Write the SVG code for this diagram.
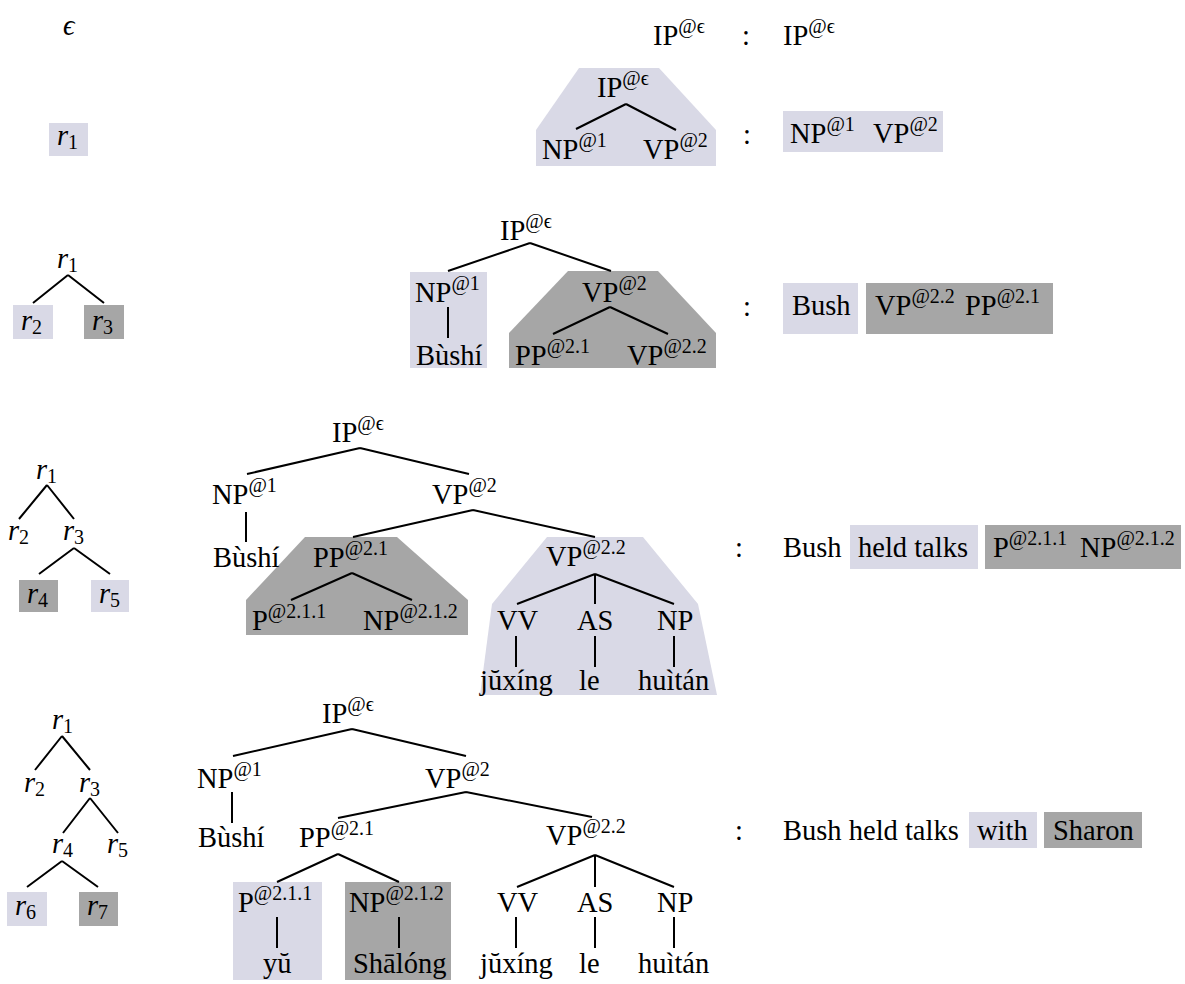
<svg xmlns="http://www.w3.org/2000/svg" width="1185" height="984" viewBox="0 0 1185 984">
<style>
text{font-family:"Liberation Serif","Times New Roman","DejaVu Serif",serif;font-size:28.5px;fill:#000}
.it{font-style:italic}
.s{font-size:20px;font-style:normal}
.ln{stroke:#000;stroke-width:2;fill:none;stroke-linecap:butt}
.lav{fill:#d9d9e6}
.gry{fill:#a6a6a6}
</style>
<rect width="1185" height="984" fill="#fff"/>
<g id="highlights">
<rect class="lav" x="49" y="123" width="39" height="33"/>
<polygon class="lav" points="579,68 659,68 716,130 716,166 536,166 536,130"/>
<rect class="lav" x="783" y="111" width="160" height="41"/>
<rect class="lav" x="13" y="305" width="40" height="34"/>
<rect class="gry" x="84" y="305" width="40" height="34"/>
<rect class="lav" x="410" y="272" width="77" height="96"/>
<polygon class="gry" points="568,271 658,271 716,333 716,368 509,368 509,333"/>
<rect class="lav" x="783" y="283" width="75" height="51"/>
<rect class="gry" x="866" y="283" width="187" height="51"/>
<rect class="gry" x="19" y="580" width="39" height="32"/>
<rect class="lav" x="91" y="580" width="38" height="32"/>
<polygon class="gry" points="305,537 397,537 468,600 468,635 246,635 246,600"/>
<polygon class="lav" points="547,537 643,537 698,604 717,695 480,695 492,604"/>
<rect class="lav" x="850" y="525" width="128" height="44"/>
<rect class="gry" x="985" y="525" width="196" height="44"/>
<rect class="lav" x="7" y="892" width="40" height="34"/>
<rect class="gry" x="79" y="892" width="39" height="34"/>
<rect class="lav" x="233" y="882" width="89" height="98"/>
<rect class="gry" x="345" y="882" width="106" height="98"/>
<rect class="lav" x="969" y="812" width="68" height="36"/>
<rect class="gry" x="1044" y="812" width="98" height="36"/>
</g>
<g id="connectors">
<path class="ln" d="M626,104L576,129M626,104L676,130"/>
<path class="ln" d="M68,275L33,303M68,275L104,303"/>
<path class="ln" d="M530,243L448,271M530,243L611,271M448,307L448,338M610,307L553,334M610,307L668,334"/>
<path class="ln" d="M47,485L19,519M47,485L74,519M74,548L39,574M74,548L110,574"/>
<path class="ln" d="M360,448L247,474M360,448L469,474M246,512L246,542M473,510L353,537M473,510L595,537M352,573L291,600M352,573L412,600"/>
<path class="ln" d="M595,574L517,604M595,574L595,604M595,574L674,604M516,636L516,667M595,636L595,667M674,636L674,667"/>
<path class="ln" d="M62,736L35,770M62,736L90,770M90,798L63,833M90,798L118,833M62,861L27,887M62,861L98,887"/>
<path class="ln" d="M352,729L233,756M352,729L466,756M232,792L232,823M466,792L338,818M466,792L592,817M338,854L277,882M338,854L399,882M277,917L277,948M399,917L399,948"/>
<path class="ln" d="M595,855L517,887M595,855L595,887M595,855L674,887M516,917L516,948M595,917L595,948M674,917L674,948"/>
</g>
<g id="row1">
<g id="n-eps"><text class="it" x="63" y="35">ϵ</text></g>
<g id="n1-ip"><text x="653" y="45">IP<tspan class="s" dy="-12">@ϵ</tspan></text></g>
<g id="n1-colon"><text x="742" y="45">:</text></g>
<g id="n1-out"><text x="783" y="45">IP<tspan class="s" dy="-12">@ϵ</tspan></text></g>
</g>
<g id="row2">
<g id="n2-r1"><text class="it" x="57" y="145">r<tspan class="s" dy="4">1</tspan></text></g>
<g id="n2-ip"><text x="597" y="97">IP<tspan class="s" dy="-12">@ϵ</tspan></text></g>
<g id="n2-np"><text x="542" y="159">NP<tspan class="s" dy="-12">@1</tspan></text></g>
<g id="n2-vp"><text x="643" y="159">VP<tspan class="s" dy="-12">@2</tspan></text></g>
<g id="n2-colon"><text x="743" y="144">:</text></g>
<g id="n2-out"><text x="790" y="143">NP<tspan class="s" dy="-12">@1</tspan></text><text x="873" y="143">VP<tspan class="s" dy="-12">@2</tspan></text></g>
</g>
<g id="row3">
<g id="n3-r1"><text class="it" x="57" y="268">r<tspan class="s" dy="4">1</tspan></text></g>
<g id="n3-r2"><text class="it" x="21" y="330">r<tspan class="s" dy="4">2</tspan></text></g>
<g id="n3-r3"><text class="it" x="92" y="330">r<tspan class="s" dy="4">3</tspan></text></g>
<g id="n3-ip"><text x="500" y="240">IP<tspan class="s" dy="-12">@ϵ</tspan></text></g>
<g id="n3-np"><text x="415" y="302">NP<tspan class="s" dy="-12">@1</tspan></text></g>
<g id="n3-bushi"><text x="416" y="365">Bùshí</text></g>
<g id="n3-vp"><text x="582" y="302">VP<tspan class="s" dy="-12">@2</tspan></text></g>
<g id="n3-pp"><text x="515" y="365">PP<tspan class="s" dy="-12">@2.1</tspan></text></g>
<g id="n3-vp22"><text x="627" y="365">VP<tspan class="s" dy="-12">@2.2</tspan></text></g>
<g id="n3-colon"><text x="743" y="316">:</text></g>
<g id="n3-out"><text x="792" y="315">Bush</text><text x="875" y="315">VP<tspan class="s" dy="-12">@2.2</tspan></text><text x="965" y="315">PP<tspan class="s" dy="-12">@2.1</tspan></text></g>
</g>
<g id="row4">
<g id="n4-r1"><text class="it" x="36" y="479">r<tspan class="s" dy="4">1</tspan></text></g>
<g id="n4-r2"><text class="it" x="8" y="540">r<tspan class="s" dy="4">2</tspan></text></g>
<g id="n4-r3"><text class="it" x="63" y="540">r<tspan class="s" dy="4">3</tspan></text></g>
<g id="n4-r4"><text class="it" x="27" y="603">r<tspan class="s" dy="4">4</tspan></text></g>
<g id="n4-r5"><text class="it" x="99" y="603">r<tspan class="s" dy="4">5</tspan></text></g>
<g id="n4-ip"><text x="332" y="442">IP<tspan class="s" dy="-12">@ϵ</tspan></text></g>
<g id="n4-np"><text x="212" y="504">NP<tspan class="s" dy="-12">@1</tspan></text></g>
<g id="n4-bushi"><text x="213" y="567">Bùshí</text></g>
<g id="n4-vp"><text x="432" y="504">VP<tspan class="s" dy="-12">@2</tspan></text></g>
<g id="n4-pp"><text x="313" y="567">PP<tspan class="s" dy="-12">@2.1</tspan></text></g>
<g id="n4-p"><text x="252" y="630">P<tspan class="s" dy="-12">@2.1.1</tspan></text></g>
<g id="n4-np212"><text x="363" y="630">NP<tspan class="s" dy="-12">@2.1.2</tspan></text></g>
<g id="n4-vp22"><text x="546" y="566">VP<tspan class="s" dy="-12">@2.2</tspan></text></g>
<g id="n4-vv"><text x="497" y="630">VV</text></g>
<g id="n4-as"><text x="577" y="630">AS</text></g>
<g id="n4-npl"><text x="657" y="630">NP</text></g>
<g id="n4-juxing"><text x="480" y="690">jŭxíng</text></g>
<g id="n4-le"><text x="579" y="690">le</text></g>
<g id="n4-huitan"><text x="638" y="690">huìtán</text></g>
<g id="n4-colon"><text x="735" y="557">:</text></g>
<g id="n4-out"><text x="783" y="557">Bush</text><text x="858" y="557">held talks</text><text x="993" y="557">P<tspan class="s" dy="-12">@2.1.1</tspan></text><text x="1080" y="557">NP<tspan class="s" dy="-12">@2.1.2</tspan></text></g>
</g>
<g id="row5">
<g id="n5-r1"><text class="it" x="52" y="729">r<tspan class="s" dy="4">1</tspan></text></g>
<g id="n5-r2"><text class="it" x="24" y="792">r<tspan class="s" dy="4">2</tspan></text></g>
<g id="n5-r3"><text class="it" x="79" y="792">r<tspan class="s" dy="4">3</tspan></text></g>
<g id="n5-r4"><text class="it" x="52" y="853">r<tspan class="s" dy="4">4</tspan></text></g>
<g id="n5-r5"><text class="it" x="107" y="853">r<tspan class="s" dy="4">5</tspan></text></g>
<g id="n5-r6"><text class="it" x="15" y="915">r<tspan class="s" dy="4">6</tspan></text></g>
<g id="n5-r7"><text class="it" x="87" y="915">r<tspan class="s" dy="4">7</tspan></text></g>
<g id="n5-ip"><text x="322" y="723">IP<tspan class="s" dy="-12">@ϵ</tspan></text></g>
<g id="n5-np"><text x="197" y="788">NP<tspan class="s" dy="-12">@1</tspan></text></g>
<g id="n5-bushi"><text x="198" y="847">Bùshí</text></g>
<g id="n5-vp"><text x="425" y="788">VP<tspan class="s" dy="-12">@2</tspan></text></g>
<g id="n5-pp"><text x="299" y="847">PP<tspan class="s" dy="-12">@2.1</tspan></text></g>
<g id="n5-p"><text x="238" y="912">P<tspan class="s" dy="-12">@2.1.1</tspan></text></g>
<g id="n5-np212"><text x="349" y="912">NP<tspan class="s" dy="-12">@2.1.2</tspan></text></g>
<g id="n5-yu"><text x="263" y="973">yŭ</text></g>
<g id="n5-shalong"><text x="353" y="973">Shālóng</text></g>
<g id="n5-vp22"><text x="546" y="845">VP<tspan class="s" dy="-12">@2.2</tspan></text></g>
<g id="n5-vv"><text x="497" y="912">VV</text></g>
<g id="n5-as"><text x="577" y="912">AS</text></g>
<g id="n5-npl"><text x="657" y="912">NP</text></g>
<g id="n5-juxing"><text x="480" y="973">jŭxíng</text></g>
<g id="n5-le"><text x="579" y="973">le</text></g>
<g id="n5-huitan"><text x="638" y="973">huìtán</text></g>
<g id="n5-colon"><text x="735" y="840">:</text></g>
<g id="n5-out"><text x="783" y="840">Bush held talks</text><text x="977" y="840">with</text><text x="1053" y="840">Sharon</text></g>
</g>
</svg>
